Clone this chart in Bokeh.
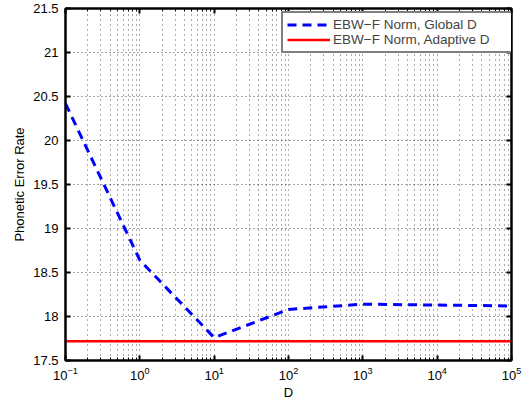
from bokeh.plotting import figure
from bokeh.models import (FixedTicker, LogAxis, LinearAxis, CustomJSTickFormatter,
                          Legend, LegendItem, Range1d)
from bokeh.embed import file_html
from bokeh.resources import INLINE

# ---- data ----
d_values = [0.1, 1, 10, 100, 1000, 10000, 100000]
global_d_err = [20.42, 18.64, 17.76, 18.08, 18.14, 18.13, 18.12]
adaptive_d_x = [0.1, 100000]
adaptive_d_err = [17.72, 17.72]
y_ticks = [17.5, 18, 18.5, 19, 19.5, 20, 20.5, 21, 21.5]
x_major = [0.1, 1, 10, 100, 1000, 10000, 100000]
series_labels = ["EBW\u2212F Norm, Global D", "EBW\u2212F Norm, Adaptive D"]
x_label = "D"
y_label = "Phonetic Error Rate"

FONT = "Liberation Sans"
FS = "13px"

x_minor = [m * 10 ** e for e in range(-1, 5) for m in range(2, 10)]

p = figure(width=526, height=402, x_axis_type="log",
           x_range=Range1d(0.1, 100000), y_range=Range1d(17.5, 21.5),
           output_backend="svg", toolbar_location=None,
           min_border_left=65, min_border_right=15, min_border_top=8,
           min_border_bottom=42)

xt = FixedTicker(ticks=x_major, minor_ticks=x_minor)
yt = FixedTicker(ticks=y_ticks)
p.xaxis.ticker = xt
p.yaxis.ticker = yt
p.yaxis.formatter = CustomJSTickFormatter(code="return tick.toString();")

# grids
p.xgrid.ticker = xt
p.ygrid.ticker = yt
p.xgrid.grid_line_color = "black"
p.xgrid.grid_line_dash = "1 4"
p.xgrid.grid_line_alpha = 0.65
p.xgrid.minor_grid_line_color = "black"
p.xgrid.minor_grid_line_dash = "1 4"
p.xgrid.minor_grid_line_alpha = 0.65
p.ygrid.grid_line_color = "black"
p.ygrid.grid_line_dash = "1 3"
p.ygrid.grid_line_alpha = 0.7

# axes styling
for ax in [p.xaxis[0], p.yaxis[0]]:
    ax.axis_line_width = 2
    ax.axis_line_color = "black"
    ax.major_tick_in = 5
    ax.major_tick_out = 0
    ax.minor_tick_in = 3
    ax.minor_tick_out = 0
    ax.major_tick_line_width = 2
    ax.major_label_text_font = FONT
    ax.major_label_text_font_size = FS
    ax.major_label_text_color = "black"
    ax.axis_label_text_font = FONT
    ax.axis_label_text_font_size = FS
    ax.axis_label_text_font_style = "normal"
    ax.axis_label_text_color = "black"
p.yaxis.minor_tick_line_color = None
p.xaxis.axis_label = x_label
p.yaxis.axis_label = y_label
p.xaxis.axis_label_standoff = 2
p.yaxis.axis_label_standoff = 3
p.yaxis.major_label_standoff = 7
p.xaxis.major_label_standoff = 6

blank = CustomJSTickFormatter(code="return '';")
top_ax = LogAxis(ticker=xt, formatter=blank, major_tick_in=5,
                 major_tick_out=0, minor_tick_in=3, minor_tick_out=0,
                 axis_line_width=2, major_tick_line_width=2, major_label_standoff=0)
right_ax = LinearAxis(ticker=yt, formatter=CustomJSTickFormatter(code="return '';"),
                      major_tick_in=5, major_tick_out=0, minor_tick_line_color=None,
                      axis_line_width=2, major_tick_line_width=2, major_label_standoff=0)
p.add_layout(top_ax, "above")
p.add_layout(right_ax, "right")

p.outline_line_color = "black"
p.outline_line_width = 2

r1 = p.line(d_values, global_d_err, line_color="#0000ff", line_width=3,
            line_dash="9 6")
r2 = p.line(adaptive_d_x, adaptive_d_err, line_color="#ff0000", line_width=2.5)

legend = Legend(items=[LegendItem(label=series_labels[0], renderers=[r1]),
                       LegendItem(label=series_labels[1], renderers=[r2])],
                location=(216, 307), margin=0)
legend.label_text_font = FONT
legend.label_text_font_size = "13.5px"
legend.border_line_color = "black"
legend.border_line_width = 2
legend.glyph_width = 43
legend.glyph_height = 15
legend.label_height = 15
legend.label_width = 178
legend.spacing = 0
legend.padding = 4
legend.label_standoff = 3
legend.background_fill_alpha = 1
p.add_layout(legend)

open("out.html", "w").write(file_html(p, INLINE))
